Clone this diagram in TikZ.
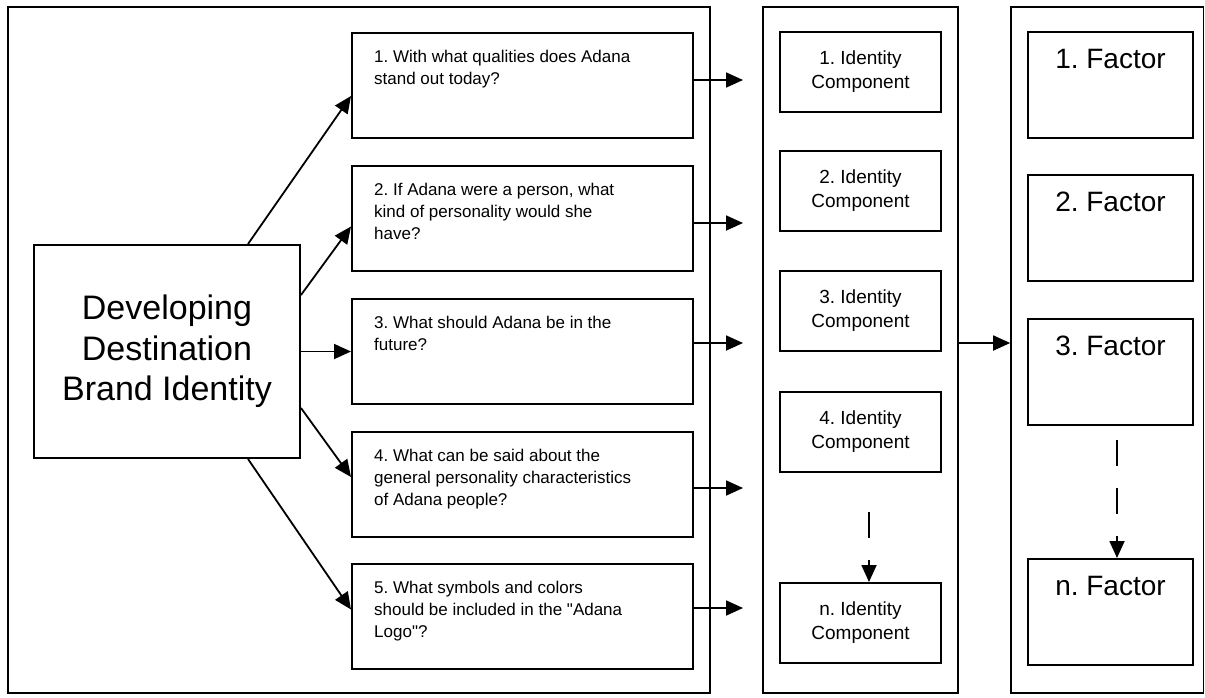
\documentclass[tikz,border=0pt]{standalone}
\usepackage{fontspec}
\setmainfont{Liberation Sans}
\usetikzlibrary{arrows.meta,calc}
\frenchspacing
\newcommand\brandfont{\fontsize{34}{40.5}\selectfont}
\newcommand\qfont{\fontsize{17}{22}\selectfont}
\newcommand\idfont{\fontsize{19}{24}\selectfont}
\newcommand\facfont{\fontsize{28}{34}\selectfont}
\tikzset{
    frame/.style = {draw, rectangle, line width=1.6pt, inner sep=0pt,
        minimum height=686pt},
    block/.style = {draw, rectangle, line width=2pt, inner sep=0pt},
    qblock/.style = {block, minimum width=341pt, minimum height=105pt},
    idblock/.style = {block, minimum width=161pt, minimum height=80pt,
        align=center, font=\idfont},
    facblock/.style = {block, minimum width=165pt, minimum height=106pt},
    qtext/.style = {anchor=north west, inner sep=0pt, align=left,
        font=\qfont, xshift=23pt, yshift=-18pt},
    factext/.style = {anchor=north, inner sep=0pt, font=\facfont, yshift=-18pt},
    arrow/.style = {draw, -{Triangle[length=17pt,width=15pt]}, line width=1.8pt},
    dasharrow/.style = {arrow, dash pattern=on 26pt off 22pt}
}

\begin{document}
\begin{tikzpicture}[x=1pt, y=-1pt]
    \useasboundingbox (0,0) rectangle (1205,697);
    % three columns
    \node [frame, minimum width=702pt] (col1) at (359,350) {};
    \node [frame, minimum width=195pt] (col2) at (860.5,350) {};
    \node [frame, minimum width=192.5pt] (col3) at (1107.25,350) {};
    \node [block, minimum width=266pt, minimum height=213pt, align=center,
        font=\brandfont] (main) at (167,351.5) {Developing\\Destination\\Brand Identity};
    % questions
    \foreach \i/\y/\ty/\qtxt in {
        1/85.5/80/{1. With what qualities does Adana\\stand out today?},
        2/218/223/{2. If Adana were a person, what\\kind of personality would she\\have?},
        3/351/343/{3. What should Adana be in the\\future?},
        4/484.5/488/{4. What can be said about the\\general personality characteristics\\of Adana people?},
        5/616/608/{5. What symbols and colors\\should be included in the \textquotedbl Adana\\Logo\textquotedbl?}}{
        \node [qblock, label={[qtext]north west:{\qtxt}}] (q\i) at (522.5,\y) {};
        \coordinate (tip\i) at (743,\ty);
        \draw [arrow] (q\i.east |- tip\i) -- (tip\i);
    }
    \draw [arrow] ([xshift=81pt]main.north) -- ($(q1.north west)+(0,64)$);
    \draw [arrow] ([yshift=56.5pt]main.east) -- ($(q2.north west)+(0,62)$);
    \draw [arrow] (main.east) -- (main.east -| q3.west);
    \draw [arrow] ([yshift=-56.5pt]main.east) -- ($(q4.north west)+(0,46)$);
    \draw [arrow] ([xshift=81pt]main.south) -- ($(q5.north west)+(0,47)$);
    % identity components
    \foreach \a/\y in {1/72,2/191,3/311,4/432,n/623}{
        \node [idblock] (id\a) at (860.5,\y) {\a. Identity\\Component};
    }
    \coordinate (idgap) at (869,512);
    \draw [dasharrow] (idgap) -- (idgap |- idn.north);
    % factors
    \foreach \a/\y in {1/85,2/228,3/372,n/612}{
        \node [facblock, label={[factext]north:{\a. Factor}}] (fac\a) at (1110.5,\y) {};
    }
    \coordinate (facgap) at (1117,440);
    \draw [dasharrow] (facgap) -- (facgap |- facn.north);
    \draw [arrow] ([yshift=7pt]col2.east) -- ([yshift=7pt]col3.west);
\end{tikzpicture}
\end{document}
